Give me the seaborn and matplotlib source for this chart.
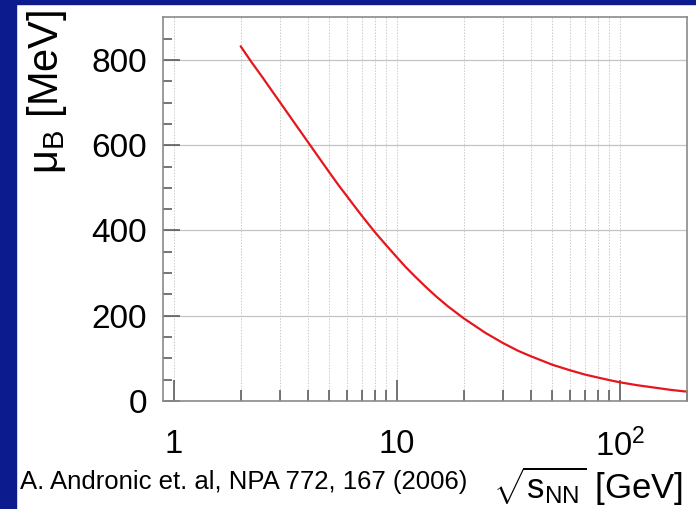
import numpy as np
import pandas as pd
import matplotlib
matplotlib.use("Agg")
import matplotlib.pyplot as plt
from matplotlib.patches import Rectangle
from matplotlib.ticker import FixedLocator, FixedFormatter, NullFormatter
import seaborn as sns

# ---- data ----
sqrt_s = [2, 2.25, 2.5, 2.75, 3, 3.5, 4, 4.5, 5, 5.5, 6, 6.5, 7, 8, 9, 10, 11, 12,
          13.5, 15, 17, 20, 25, 30, 35, 40, 50, 60, 70, 80, 90, 100, 120, 150, 170, 200]
mu_b = [832, 793, 760, 729, 701, 651, 608, 570, 536, 506, 480, 456, 434, 396, 365, 338, 314, 294,
        268, 246, 222, 194, 160, 136, 118, 105, 85, 72, 62, 55, 49, 44, 37, 30, 26, 22]
x_major = [1, 10, 100]
x_major_labels = ["1", "10", r"$\mathregular{10^2}$"]
x_minor = [2, 3, 4, 5, 6, 7, 8, 9, 20, 30, 40, 50, 60, 70, 80, 90, 200]
y_major = [0, 200, 400, 600, 800]
y_minor = [50, 100, 150, 250, 300, 350, 450, 500, 550, 650, 700, 750, 850]
citation = "A. Andronic et. al, NPA 772, 167 (2006)"
x_label = r"$\sqrt{\mathregular{s_{NN}}}$ [GeV]"
y_label = r"μ$_\mathregular{B}$ [MeV]"

sns.set_style("white")
plt.rcParams["font.family"] = ["Liberation Sans", "DejaVu Sans"]
plt.rcParams["mathtext.fontset"] = "custom"
plt.rcParams["mathtext.rm"] = "Liberation Sans"
plt.rcParams["mathtext.it"] = "Liberation Sans:italic"
plt.rcParams["mathtext.bf"] = "Liberation Sans:bold"
plt.rcParams["mathtext.sf"] = "Liberation Sans"
plt.rcParams["text.color"] = "black"
plt.rcParams["axes.labelcolor"] = "black"
plt.rcParams["xtick.color"] = "black"
plt.rcParams["ytick.color"] = "black"

W, H = 696, 509
fig = plt.figure(figsize=(W / 100, H / 100), dpi=100)
fig.patch.set_facecolor("white")

# blue slide frame
navy = "#0c1c8e"
fig.patches.append(Rectangle((0, 0), 16 / W, 1, transform=fig.transFigure, color=navy, zorder=0))
fig.patches.append(Rectangle((0, 1 - 4 / H), 1, 4 / H, transform=fig.transFigure, color=navy, zorder=0))

ax = fig.add_axes([163.3 / W, 1 - 401 / H, (686.7 - 163.3) / W, (401 - 17.3) / H])

df = pd.DataFrame({"sqrt_s": sqrt_s, "mu_b": mu_b})
sns.lineplot(data=df, x="sqrt_s", y="mu_b", ax=ax, color="#e5161c", linewidth=1.6)

ax.set_xscale("log")
ax.set_xlim(0.9, 200)
ax.set_ylim(0, 900)

ax.xaxis.set_major_locator(FixedLocator(x_major))
ax.xaxis.set_major_formatter(FixedFormatter(x_major_labels))
ax.xaxis.set_minor_locator(FixedLocator(x_minor))
ax.xaxis.set_minor_formatter(NullFormatter())
ax.yaxis.set_major_locator(FixedLocator(y_major))
ax.yaxis.set_minor_locator(FixedLocator(y_minor))

tick_col = "#505050"
ax.tick_params(axis="both", which="both", direction="in", color=tick_col, width=1.1,
               bottom=True, left=True, top=False, right=False, labelcolor="black")
ax.tick_params(axis="y", which="major", length=12.5, labelsize=24, pad=11.5)
ax.tick_params(axis="y", which="minor", length=6.2)
ax.tick_params(axis="x", which="major", length=15, labelsize=23.5, pad=20)
ax.tick_params(axis="x", which="minor", length=8)

# grids
for xv in x_major + x_minor:
    ax.axvline(xv, color="#cccccc", linestyle=(0, (1.5, 1.5)), linewidth=0.7, zorder=0)
for yv in y_major[1:]:
    ax.axhline(yv, color="#c4c4c4", linewidth=0.9, zorder=0)

for s in ax.spines.values():
    s.set_color("#8a8a8a")
    s.set_linewidth(1.2)

ax.set_xlabel(x_label, fontsize=25, loc="right")
ax.xaxis.set_label_coords((683 - 163.3) / 523.4, -0.165)
ax.set_ylabel(y_label, fontsize=30, loc="top")
ax.yaxis.set_label_coords(-0.180, 1.02)

fig.text(20 / W, 1 - 489 / H, citation, fontsize=18.5, ha="left", va="baseline")

fig.savefig("out.png", dpi=100)
